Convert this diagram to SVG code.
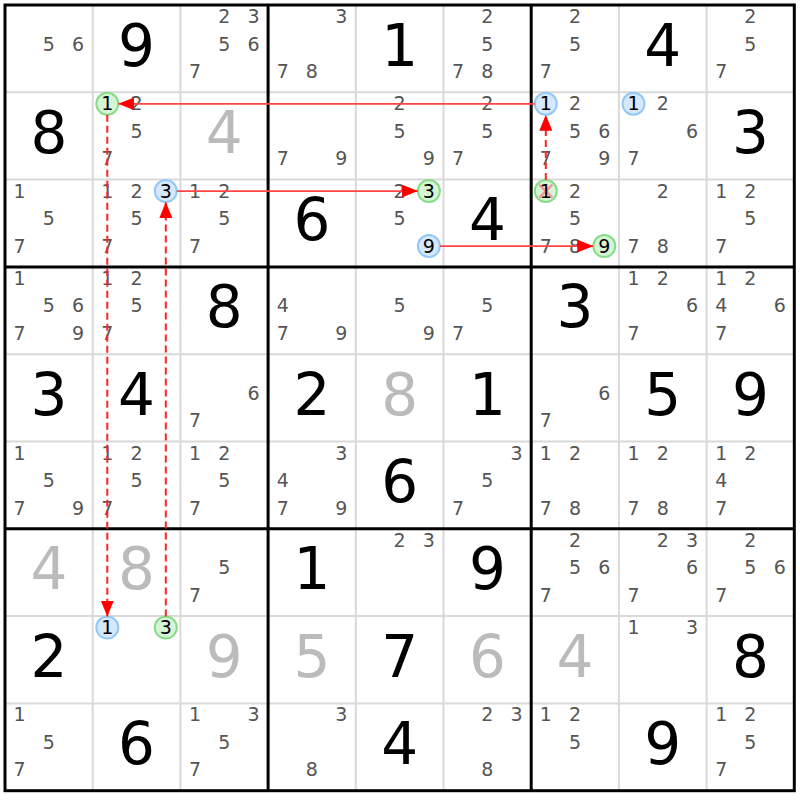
<svg xmlns="http://www.w3.org/2000/svg" width="800" height="800" viewBox="0 0 800 800">
<style>
text{font-family:"DejaVu Sans",Verdana,sans-serif;text-anchor:middle}
.c{font-size:19px;fill:#555}
.g{font-size:58px;fill:#000}
.s{font-size:58px;fill:#bbb}
.k{font-size:19px;fill:#000}
.gc{fill:#d6f5d6;stroke:#86dc86;stroke-width:2}
.bc{fill:#d6e8fb;stroke:#92c8f8;stroke-width:2}
.x{stroke:#f59a9a;stroke-width:2.5}
.thin{stroke:#d9d9d9;stroke-width:2}
.thick{stroke:#000;stroke-width:3}
.a{stroke:#f44;stroke-width:1.8;fill:none}
.d{stroke:#f22;stroke-width:2;stroke-dasharray:7 4}
</style>
<defs>
<marker id="ah" markerUnits="userSpaceOnUse" markerWidth="16" markerHeight="13" refX="16" refY="6.5" orient="auto">
<path d="M0,0 L16,6.5 L0,13 z" fill="#f00"/>
</marker>
</defs>
<rect x="0" y="0" width="800" height="800" fill="#fff"/>
<g id="grid">
<g class="thin">
<line x1="92.7" y1="5" x2="92.7" y2="790.7"/><line x1="180.4" y1="5" x2="180.4" y2="790.7"/>
<line x1="355.8" y1="5" x2="355.8" y2="790.7"/><line x1="443.5" y1="5" x2="443.5" y2="790.7"/>
<line x1="618.9" y1="5" x2="618.9" y2="790.7"/><line x1="706.6" y1="5" x2="706.6" y2="790.7"/>
<line x1="5" y1="92.3" x2="794.3" y2="92.3"/><line x1="5" y1="179.6" x2="794.3" y2="179.6"/>
<line x1="5" y1="354.2" x2="794.3" y2="354.2"/><line x1="5" y1="441.5" x2="794.3" y2="441.5"/>
<line x1="5" y1="616.1" x2="794.3" y2="616.1"/><line x1="5" y1="703.4" x2="794.3" y2="703.4"/>
</g>
<g class="thick">
<line x1="268.1" y1="5" x2="268.1" y2="790.7"/><line x1="531.2" y1="5" x2="531.2" y2="790.7"/>
<line x1="5" y1="266.9" x2="794.3" y2="266.9"/><line x1="5" y1="528.8" x2="794.3" y2="528.8"/>
<rect x="5" y="5" width="789.3" height="785.7" fill="none"/>
</g>
</g>

<g id="r1c1" transform="translate(5,5)"><text class="c" x="43.8" y="45.5">5</text><text class="c" x="73.1" y="45.5">6</text></g>
<g id="r1c2" transform="translate(92.7,5)"><text class="g" x="43.85" y="60.6">9</text></g>
<g id="r1c3" transform="translate(180.4,5)"><text class="c" x="43.8" y="18">2</text><text class="c" x="73.1" y="18">3</text><text class="c" x="43.8" y="45.5">5</text><text class="c" x="73.1" y="45.5">6</text><text class="c" x="14.6" y="73">7</text></g>
<g id="r1c4" transform="translate(268.1,5)"><text class="c" x="73.1" y="18">3</text><text class="c" x="14.6" y="73">7</text><text class="c" x="43.8" y="73">8</text></g>
<g id="r1c5" transform="translate(355.8,5)"><text class="g" x="43.85" y="60.6">1</text></g>
<g id="r1c6" transform="translate(443.5,5)"><text class="c" x="43.8" y="18">2</text><text class="c" x="43.8" y="45.5">5</text><text class="c" x="14.6" y="73">7</text><text class="c" x="43.8" y="73">8</text></g>
<g id="r1c7" transform="translate(531.2,5)"><text class="c" x="43.8" y="18">2</text><text class="c" x="43.8" y="45.5">5</text><text class="c" x="14.6" y="73">7</text></g>
<g id="r1c8" transform="translate(618.9,5)"><text class="g" x="43.85" y="60.6">4</text></g>
<g id="r1c9" transform="translate(706.6,5)"><text class="c" x="43.8" y="18">2</text><text class="c" x="43.8" y="45.5">5</text><text class="c" x="14.6" y="73">7</text></g>

<g id="r2c1" transform="translate(5,92.3)"><text class="g" x="43.85" y="60.6">8</text></g>
<g id="r2c2" transform="translate(92.7,92.3)"><circle class="gc" cx="14.6" cy="11.5" r="11"/><text class="k" x="14.6" y="18">1</text><text class="c" x="43.8" y="18">2</text><text class="c" x="43.8" y="45.5">5</text><text class="c" x="14.6" y="73">7</text></g>
<g id="r2c3" transform="translate(180.4,92.3)"><text class="s" x="43.85" y="60.6">4</text></g>
<g id="r2c4" transform="translate(268.1,92.3)"><text class="c" x="14.6" y="73">7</text><text class="c" x="73.1" y="73">9</text></g>
<g id="r2c5" transform="translate(355.8,92.3)"><text class="c" x="43.8" y="18">2</text><text class="c" x="43.8" y="45.5">5</text><text class="c" x="73.1" y="73">9</text></g>
<g id="r2c6" transform="translate(443.5,92.3)"><text class="c" x="43.8" y="18">2</text><text class="c" x="43.8" y="45.5">5</text><text class="c" x="14.6" y="73">7</text></g>
<g id="r2c7" transform="translate(531.2,92.3)"><circle class="bc" cx="14.6" cy="11.5" r="11"/><text class="k" x="14.6" y="18">1</text><text class="c" x="43.8" y="18">2</text><text class="c" x="43.8" y="45.5">5</text><text class="c" x="73.1" y="45.5">6</text><text class="c" x="14.6" y="73">7</text><text class="c" x="73.1" y="73">9</text></g>
<g id="r2c8" transform="translate(618.9,92.3)"><circle class="bc" cx="14.6" cy="11.5" r="11"/><text class="k" x="14.6" y="18">1</text><text class="c" x="43.8" y="18">2</text><text class="c" x="73.1" y="45.5">6</text><text class="c" x="14.6" y="73">7</text></g>
<g id="r2c9" transform="translate(706.6,92.3)"><text class="g" x="43.85" y="60.6">3</text></g>

<g id="r3c1" transform="translate(5,179.6)"><text class="c" x="14.6" y="18">1</text><text class="c" x="43.8" y="45.5">5</text><text class="c" x="14.6" y="73">7</text></g>
<g id="r3c2" transform="translate(92.7,179.6)"><text class="c" x="14.6" y="18">1</text><text class="c" x="43.8" y="18">2</text><circle class="bc" cx="73.1" cy="11.5" r="11"/><text class="k" x="73.1" y="18">3</text><text class="c" x="43.8" y="45.5">5</text><text class="c" x="14.6" y="73">7</text></g>
<g id="r3c3" transform="translate(180.4,179.6)"><text class="c" x="14.6" y="18">1</text><text class="c" x="43.8" y="18">2</text><text class="c" x="43.8" y="45.5">5</text><text class="c" x="14.6" y="73">7</text></g>
<g id="r3c4" transform="translate(268.1,179.6)"><text class="g" x="43.85" y="60.6">6</text></g>
<g id="r3c5" transform="translate(355.8,179.6)"><text class="c" x="43.8" y="18">2</text><circle class="gc" cx="73.1" cy="11.5" r="11"/><text class="k" x="73.1" y="18">3</text><text class="c" x="43.8" y="45.5">5</text><circle class="bc" cx="73.1" cy="66.5" r="11"/><text class="k" x="73.1" y="73">9</text></g>
<g id="r3c6" transform="translate(443.5,179.6)"><text class="g" x="43.85" y="60.6">4</text></g>
<g id="r3c7" transform="translate(531.2,179.6)"><circle class="gc" cx="14.6" cy="11.5" r="11"/><line class="x" x1="8" y1="5" x2="21.2" y2="18"/><line class="x" x1="21.2" y1="5" x2="8" y2="18"/><text class="k" x="14.6" y="18">1</text><text class="c" x="43.8" y="18">2</text><text class="c" x="43.8" y="45.5">5</text><text class="c" x="14.6" y="73">7</text><text class="c" x="43.8" y="73">8</text><circle class="gc" cx="73.1" cy="66.5" r="11"/><text class="k" x="73.1" y="73">9</text></g>
<g id="r3c8" transform="translate(618.9,179.6)"><text class="c" x="43.8" y="18">2</text><text class="c" x="14.6" y="73">7</text><text class="c" x="43.8" y="73">8</text></g>
<g id="r3c9" transform="translate(706.6,179.6)"><text class="c" x="14.6" y="18">1</text><text class="c" x="43.8" y="18">2</text><text class="c" x="43.8" y="45.5">5</text><text class="c" x="14.6" y="73">7</text></g>

<g id="r4c1" transform="translate(5,266.9)"><text class="c" x="14.6" y="18">1</text><text class="c" x="43.8" y="45.5">5</text><text class="c" x="73.1" y="45.5">6</text><text class="c" x="14.6" y="73">7</text><text class="c" x="73.1" y="73">9</text></g>
<g id="r4c2" transform="translate(92.7,266.9)"><text class="c" x="14.6" y="18">1</text><text class="c" x="43.8" y="18">2</text><text class="c" x="43.8" y="45.5">5</text><text class="c" x="14.6" y="73">7</text></g>
<g id="r4c3" transform="translate(180.4,266.9)"><text class="g" x="43.85" y="60.6">8</text></g>
<g id="r4c4" transform="translate(268.1,266.9)"><text class="c" x="14.6" y="45.5">4</text><text class="c" x="14.6" y="73">7</text><text class="c" x="73.1" y="73">9</text></g>
<g id="r4c5" transform="translate(355.8,266.9)"><text class="c" x="43.8" y="45.5">5</text><text class="c" x="73.1" y="73">9</text></g>
<g id="r4c6" transform="translate(443.5,266.9)"><text class="c" x="43.8" y="45.5">5</text><text class="c" x="14.6" y="73">7</text></g>
<g id="r4c7" transform="translate(531.2,266.9)"><text class="g" x="43.85" y="60.6">3</text></g>
<g id="r4c8" transform="translate(618.9,266.9)"><text class="c" x="14.6" y="18">1</text><text class="c" x="43.8" y="18">2</text><text class="c" x="73.1" y="45.5">6</text><text class="c" x="14.6" y="73">7</text></g>
<g id="r4c9" transform="translate(706.6,266.9)"><text class="c" x="14.6" y="18">1</text><text class="c" x="43.8" y="18">2</text><text class="c" x="14.6" y="45.5">4</text><text class="c" x="73.1" y="45.5">6</text><text class="c" x="14.6" y="73">7</text></g>

<g id="r5c1" transform="translate(5,354.2)"><text class="g" x="43.85" y="60.6">3</text></g>
<g id="r5c2" transform="translate(92.7,354.2)"><text class="g" x="43.85" y="60.6">4</text></g>
<g id="r5c3" transform="translate(180.4,354.2)"><text class="c" x="73.1" y="45.5">6</text><text class="c" x="14.6" y="73">7</text></g>
<g id="r5c4" transform="translate(268.1,354.2)"><text class="g" x="43.85" y="60.6">2</text></g>
<g id="r5c5" transform="translate(355.8,354.2)"><text class="s" x="43.85" y="60.6">8</text></g>
<g id="r5c6" transform="translate(443.5,354.2)"><text class="g" x="43.85" y="60.6">1</text></g>
<g id="r5c7" transform="translate(531.2,354.2)"><text class="c" x="73.1" y="45.5">6</text><text class="c" x="14.6" y="73">7</text></g>
<g id="r5c8" transform="translate(618.9,354.2)"><text class="g" x="43.85" y="60.6">5</text></g>
<g id="r5c9" transform="translate(706.6,354.2)"><text class="g" x="43.85" y="60.6">9</text></g>

<g id="r6c1" transform="translate(5,441.5)"><text class="c" x="14.6" y="18">1</text><text class="c" x="43.8" y="45.5">5</text><text class="c" x="14.6" y="73">7</text><text class="c" x="73.1" y="73">9</text></g>
<g id="r6c2" transform="translate(92.7,441.5)"><text class="c" x="14.6" y="18">1</text><text class="c" x="43.8" y="18">2</text><text class="c" x="43.8" y="45.5">5</text><text class="c" x="14.6" y="73">7</text></g>
<g id="r6c3" transform="translate(180.4,441.5)"><text class="c" x="14.6" y="18">1</text><text class="c" x="43.8" y="18">2</text><text class="c" x="43.8" y="45.5">5</text><text class="c" x="14.6" y="73">7</text></g>
<g id="r6c4" transform="translate(268.1,441.5)"><text class="c" x="73.1" y="18">3</text><text class="c" x="14.6" y="45.5">4</text><text class="c" x="14.6" y="73">7</text><text class="c" x="73.1" y="73">9</text></g>
<g id="r6c5" transform="translate(355.8,441.5)"><text class="g" x="43.85" y="60.6">6</text></g>
<g id="r6c6" transform="translate(443.5,441.5)"><text class="c" x="73.1" y="18">3</text><text class="c" x="43.8" y="45.5">5</text><text class="c" x="14.6" y="73">7</text></g>
<g id="r6c7" transform="translate(531.2,441.5)"><text class="c" x="14.6" y="18">1</text><text class="c" x="43.8" y="18">2</text><text class="c" x="14.6" y="73">7</text><text class="c" x="43.8" y="73">8</text></g>
<g id="r6c8" transform="translate(618.9,441.5)"><text class="c" x="14.6" y="18">1</text><text class="c" x="43.8" y="18">2</text><text class="c" x="14.6" y="73">7</text><text class="c" x="43.8" y="73">8</text></g>
<g id="r6c9" transform="translate(706.6,441.5)"><text class="c" x="14.6" y="18">1</text><text class="c" x="43.8" y="18">2</text><text class="c" x="14.6" y="45.5">4</text><text class="c" x="14.6" y="73">7</text></g>

<g id="r7c1" transform="translate(5,528.8)"><text class="s" x="43.85" y="60.6">4</text></g>
<g id="r7c2" transform="translate(92.7,528.8)"><text class="s" x="43.85" y="60.6">8</text></g>
<g id="r7c3" transform="translate(180.4,528.8)"><text class="c" x="43.8" y="45.5">5</text><text class="c" x="14.6" y="73">7</text></g>
<g id="r7c4" transform="translate(268.1,528.8)"><text class="g" x="43.85" y="60.6">1</text></g>
<g id="r7c5" transform="translate(355.8,528.8)"><text class="c" x="43.8" y="18">2</text><text class="c" x="73.1" y="18">3</text></g>
<g id="r7c6" transform="translate(443.5,528.8)"><text class="g" x="43.85" y="60.6">9</text></g>
<g id="r7c7" transform="translate(531.2,528.8)"><text class="c" x="43.8" y="18">2</text><text class="c" x="43.8" y="45.5">5</text><text class="c" x="73.1" y="45.5">6</text><text class="c" x="14.6" y="73">7</text></g>
<g id="r7c8" transform="translate(618.9,528.8)"><text class="c" x="43.8" y="18">2</text><text class="c" x="73.1" y="18">3</text><text class="c" x="73.1" y="45.5">6</text><text class="c" x="14.6" y="73">7</text></g>
<g id="r7c9" transform="translate(706.6,528.8)"><text class="c" x="43.8" y="18">2</text><text class="c" x="43.8" y="45.5">5</text><text class="c" x="73.1" y="45.5">6</text><text class="c" x="14.6" y="73">7</text></g>

<g id="r8c1" transform="translate(5,616.1)"><text class="g" x="43.85" y="60.6">2</text></g>
<g id="r8c2" transform="translate(92.7,616.1)"><circle class="bc" cx="14.6" cy="11.5" r="11"/><text class="k" x="14.6" y="18">1</text><circle class="gc" cx="73.1" cy="11.5" r="11"/><text class="k" x="73.1" y="18">3</text></g>
<g id="r8c3" transform="translate(180.4,616.1)"><text class="s" x="43.85" y="60.6">9</text></g>
<g id="r8c4" transform="translate(268.1,616.1)"><text class="s" x="43.85" y="60.6">5</text></g>
<g id="r8c5" transform="translate(355.8,616.1)"><text class="g" x="43.85" y="60.6">7</text></g>
<g id="r8c6" transform="translate(443.5,616.1)"><text class="s" x="43.85" y="60.6">6</text></g>
<g id="r8c7" transform="translate(531.2,616.1)"><text class="s" x="43.85" y="60.6">4</text></g>
<g id="r8c8" transform="translate(618.9,616.1)"><text class="c" x="14.6" y="18">1</text><text class="c" x="73.1" y="18">3</text></g>
<g id="r8c9" transform="translate(706.6,616.1)"><text class="g" x="43.85" y="60.6">8</text></g>

<g id="r9c1" transform="translate(5,703.4)"><text class="c" x="14.6" y="18">1</text><text class="c" x="43.8" y="45.5">5</text><text class="c" x="14.6" y="73">7</text></g>
<g id="r9c2" transform="translate(92.7,703.4)"><text class="g" x="43.85" y="60.6">6</text></g>
<g id="r9c3" transform="translate(180.4,703.4)"><text class="c" x="14.6" y="18">1</text><text class="c" x="73.1" y="18">3</text><text class="c" x="43.8" y="45.5">5</text><text class="c" x="14.6" y="73">7</text></g>
<g id="r9c4" transform="translate(268.1,703.4)"><text class="c" x="73.1" y="18">3</text><text class="c" x="43.8" y="73">8</text></g>
<g id="r9c5" transform="translate(355.8,703.4)"><text class="g" x="43.85" y="60.6">4</text></g>
<g id="r9c6" transform="translate(443.5,703.4)"><text class="c" x="43.8" y="18">2</text><text class="c" x="73.1" y="18">3</text><text class="c" x="43.8" y="73">8</text></g>
<g id="r9c7" transform="translate(531.2,703.4)"><text class="c" x="14.6" y="18">1</text><text class="c" x="43.8" y="18">2</text><text class="c" x="43.8" y="45.5">5</text></g>
<g id="r9c8" transform="translate(618.9,703.4)"><text class="g" x="43.85" y="60.6">9</text></g>
<g id="r9c9" transform="translate(706.6,703.4)"><text class="c" x="14.6" y="18">1</text><text class="c" x="43.8" y="18">2</text><text class="c" x="43.8" y="45.5">5</text><text class="c" x="14.6" y="73">7</text></g>

<g id="connectors">
<line class="a" x1="534.8" y1="103.8" x2="118.3" y2="103.8" marker-end="url(#ah)"/>
<line class="a" x1="176.8" y1="191.1" x2="417.9" y2="191.1" marker-end="url(#ah)"/>
<line class="a" x1="439.9" y1="246.1" x2="593.3" y2="246.1" marker-end="url(#ah)"/>
<line class="a d" x1="107.3" y1="114.8" x2="107.3" y2="616.6" marker-end="url(#ah)"/>
<line class="a d" x1="165.8" y1="616.6" x2="165.8" y2="202.1" marker-end="url(#ah)"/>
<line class="a d" x1="545.8" y1="180.1" x2="545.8" y2="114.8" marker-end="url(#ah)"/>
</g>
</svg>
